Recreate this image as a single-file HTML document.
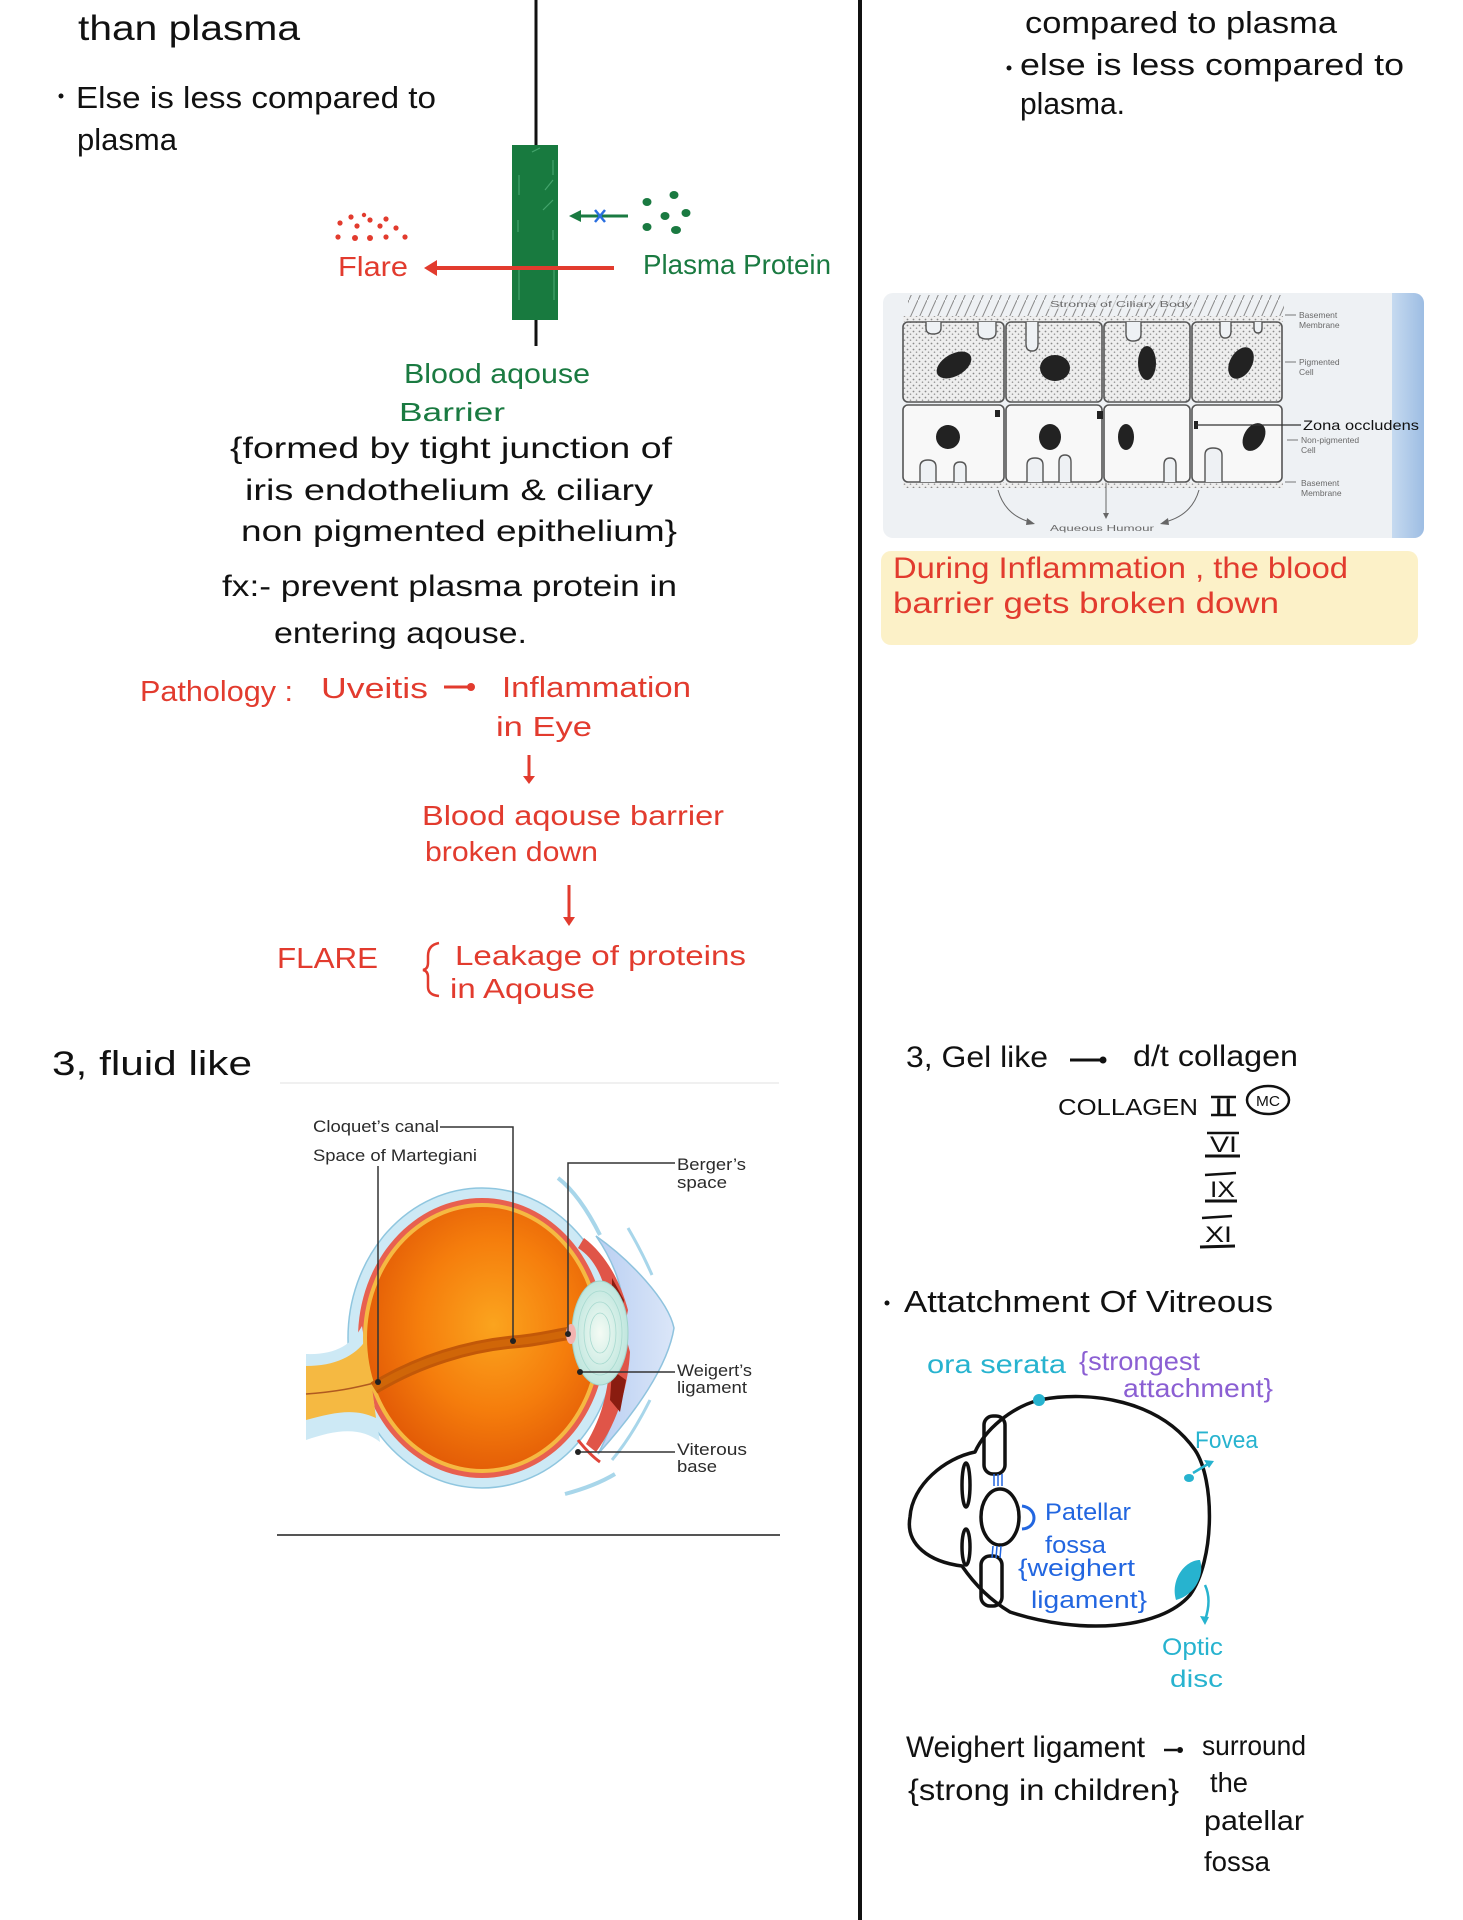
<!DOCTYPE html>
<html>
<head>
<meta charset="utf-8">
<style>
html,body{margin:0;padding:0;background:#fff;}
svg{display:block;}
text{font-family:"Liberation Sans","DejaVu Sans",sans-serif;}
.k{fill:#111;}
.r{fill:#e23b2e;}
.g{fill:#1a7a41;}
.c{fill:#27b3cf;}
.p{fill:#8b5fd3;}
.b{fill:#2266e0;}
.lbl{fill:#2b2b2b;font-size:17px;}
.sm{fill:#6a6a6a;font-size:8.5px;}
</style>
</head>
<body>
<svg width="1463" height="1920" viewBox="0 0 1463 1920" xmlns="http://www.w3.org/2000/svg">
<defs>
  <pattern id="hatch" width="9" height="20" patternUnits="userSpaceOnUse">
    <line x1="0" y1="20" x2="9" y2="0" stroke="#8a8a8a" stroke-width="1"/>
  </pattern>
  <pattern id="stip" width="6" height="6" patternUnits="userSpaceOnUse">
    <rect width="6" height="6" fill="#eeeeee"/>
    <circle cx="1.5" cy="1.5" r="0.9" fill="#8a8a8a"/>
    <circle cx="4.5" cy="4.2" r="0.8" fill="#999"/>
  </pattern>
  <linearGradient id="strip" x1="0" x2="1" y1="0" y2="0">
    <stop offset="0" stop-color="#c6daf0"/>
    <stop offset="1" stop-color="#9dbde3"/>
  </linearGradient>
  <radialGradient id="vit" cx="0.55" cy="0.45" r="0.6">
    <stop offset="0" stop-color="#fba41e"/>
    <stop offset="0.55" stop-color="#f57d0c"/>
    <stop offset="1" stop-color="#e15806"/>
  </radialGradient>
  <radialGradient id="lens" cx="0.5" cy="0.5" r="0.5">
    <stop offset="0" stop-color="#f4fbf4"/>
    <stop offset="1" stop-color="#bfe6de"/>
  </radialGradient>
  <linearGradient id="corn" x1="0" x2="1">
    <stop offset="0" stop-color="#b9cff2"/>
    <stop offset="1" stop-color="#dbe6f8"/>
  </linearGradient>
</defs>

<!-- central divider -->
<rect x="858" y="0" width="4" height="1920" fill="#111"/>

<!-- ================= LEFT COLUMN ================= -->
<text class="k" x="78" y="40" font-size="35" textLength="222" lengthAdjust="spacingAndGlyphs">than   plasma</text>
<circle cx="61" cy="96" r="2.5" fill="#111"/>
<text class="k" x="76" y="108" font-size="31" textLength="360" lengthAdjust="spacingAndGlyphs">Else  is less  compared  to</text>
<text class="k" x="77" y="150" font-size="31" textLength="100" lengthAdjust="spacingAndGlyphs">plasma</text>

<!-- barrier diagram -->
<line x1="536" y1="0" x2="536" y2="146" stroke="#111" stroke-width="3"/>
<line x1="536" y1="318" x2="536" y2="346" stroke="#111" stroke-width="3"/>
<rect x="512" y="145" width="46" height="175" fill="#187a3f"/>
<g stroke="#4fae78" stroke-width="1.2" opacity="0.8">
  <line x1="519" y1="175" x2="519" y2="195"/>
  <line x1="553" y1="160" x2="553" y2="175"/>
  <line x1="545" y1="190" x2="553" y2="180"/>
  <line x1="543" y1="210" x2="553" y2="200"/>
  <line x1="518" y1="220" x2="518" y2="232"/>
  <line x1="553" y1="230" x2="553" y2="240"/>
  <line x1="519" y1="270" x2="519" y2="300"/>
  <line x1="554" y1="270" x2="554" y2="300"/>
  <line x1="532" y1="152" x2="540" y2="148"/>
</g>
<!-- green arrow blocked -->
<line x1="628" y1="216" x2="576" y2="216" stroke="#1a7a41" stroke-width="3"/>
<polygon points="569,216 581,210 581,222" fill="#1a7a41"/>
<line x1="595" y1="210" x2="605" y2="222" stroke="#2a6fe0" stroke-width="2.5"/>
<line x1="605" y1="210" x2="595" y2="222" stroke="#2a6fe0" stroke-width="2.5"/>
<g fill="#1a7a41">
  <ellipse cx="647" cy="202" rx="4.5" ry="4"/>
  <ellipse cx="674" cy="195" rx="4.5" ry="4"/>
  <ellipse cx="665" cy="216" rx="4.5" ry="4"/>
  <ellipse cx="686" cy="213" rx="4.5" ry="4"/>
  <ellipse cx="647" cy="227" rx="4.5" ry="4"/>
  <ellipse cx="676" cy="230" rx="5" ry="4"/>
</g>
<!-- red flare -->
<g fill="#e23b2e">
  <circle cx="340" cy="223" r="2.6"/><circle cx="351" cy="217" r="2.6"/>
  <circle cx="357" cy="226" r="2.6"/><circle cx="370" cy="220" r="2.6"/>
  <circle cx="380" cy="226" r="2.6"/><circle cx="386" cy="219" r="2.6"/>
  <circle cx="396" cy="228" r="2.6"/><circle cx="338" cy="237" r="2.6"/>
  <circle cx="355" cy="238" r="3"/><circle cx="370" cy="238" r="3"/>
  <circle cx="386" cy="237" r="2.6"/><circle cx="405" cy="237" r="2.6"/>
  <circle cx="364" cy="215" r="2.2"/>
</g>
<text class="r" x="338" y="276" font-size="28" textLength="70" lengthAdjust="spacingAndGlyphs">Flare</text>
<line x1="614" y1="268" x2="432" y2="268" stroke="#e23b2e" stroke-width="4"/>
<polygon points="424,268 437,260 437,276" fill="#e23b2e"/>
<text class="g" x="643" y="274" font-size="28" textLength="188" lengthAdjust="spacingAndGlyphs">Plasma Protein</text>

<text class="g" x="404" y="383" font-size="28" textLength="186" lengthAdjust="spacingAndGlyphs">Blood  aqouse</text>
<text class="g" x="399" y="421" font-size="26" textLength="106" lengthAdjust="spacingAndGlyphs">Barrier</text>

<text class="k" x="230" y="458" font-size="30" textLength="442" lengthAdjust="spacingAndGlyphs">{formed  by  tight  junction  of</text>
<text class="k" x="245" y="500" font-size="30" textLength="408" lengthAdjust="spacingAndGlyphs">iris  endothelium  &amp;  ciliary</text>
<text class="k" x="241" y="541" font-size="30" textLength="436" lengthAdjust="spacingAndGlyphs">non  pigmented  epithelium}</text>
<text class="k" x="222" y="596" font-size="30" textLength="455" lengthAdjust="spacingAndGlyphs">fx:-  prevent  plasma  protein in</text>
<text class="k" x="274" y="643" font-size="30" textLength="253" lengthAdjust="spacingAndGlyphs">entering  aqouse.</text>

<!-- pathology -->
<text class="r" x="140" y="701" font-size="29" textLength="153" lengthAdjust="spacingAndGlyphs">Pathology :</text>
<text class="r" x="321" y="698" font-size="29" textLength="107" lengthAdjust="spacingAndGlyphs">Uveitis</text>
<line x1="444" y1="687" x2="468" y2="687" stroke="#e23b2e" stroke-width="3"/>
<circle cx="471" cy="687" r="4" fill="#e23b2e"/>
<text class="r" x="502" y="697" font-size="29" textLength="189" lengthAdjust="spacingAndGlyphs">Inflammation</text>
<text class="r" x="496" y="736" font-size="28" textLength="96" lengthAdjust="spacingAndGlyphs">in  Eye</text>
<line x1="529" y1="755" x2="529" y2="780" stroke="#e23b2e" stroke-width="3"/>
<polygon points="523,776 535,776 529,784" fill="#e23b2e"/>
<text class="r" x="422" y="825" font-size="28" textLength="302" lengthAdjust="spacingAndGlyphs">Blood  aqouse  barrier</text>
<text class="r" x="425" y="861" font-size="28" textLength="173" lengthAdjust="spacingAndGlyphs">broken  down</text>
<line x1="569" y1="885" x2="569" y2="920" stroke="#e23b2e" stroke-width="3"/>
<polygon points="563,917 575,917 569,926" fill="#e23b2e"/>
<text class="r" x="277" y="968" font-size="29" textLength="101" lengthAdjust="spacingAndGlyphs">FLARE</text>
<path d="M439 943 Q428 945 428 956 L428 963 Q428 969 423 970 Q428 971 428 977 L428 987 Q428 995 439 996" fill="none" stroke="#e23b2e" stroke-width="2.5"/>
<text class="r" x="455" y="965" font-size="28" textLength="291" lengthAdjust="spacingAndGlyphs">Leakage  of  proteins</text>
<text class="r" x="450" y="998" font-size="28" textLength="145" lengthAdjust="spacingAndGlyphs">in  Aqouse</text>

<!-- 3, fluid like -->
<text class="k" x="52" y="1075" font-size="34" textLength="200" lengthAdjust="spacingAndGlyphs">3,  fluid   like</text>

<!-- eye anatomy figure -->
<line x1="280" y1="1083" x2="779" y2="1083" stroke="#ececec" stroke-width="1.5"/>
<line x1="277" y1="1535" x2="780" y2="1535" stroke="#555" stroke-width="2"/>

<!-- conjunctiva flaps -->
<path d="M558 1178 Q580 1195 600 1235" fill="none" stroke="#a8d6ea" stroke-width="4"/>
<path d="M628 1228 Q642 1252 652 1275" fill="none" stroke="#a8d6ea" stroke-width="3"/>
<path d="M615 1474 Q595 1486 565 1494" fill="none" stroke="#a8d6ea" stroke-width="4"/>
<path d="M650 1400 Q632 1436 612 1460" fill="none" stroke="#a8d6ea" stroke-width="3"/>

<!-- sclera -->
<ellipse cx="482" cy="1338" rx="134" ry="150" fill="#cde9f5" stroke="#8fc6df" stroke-width="1.5"/>
<!-- choroid -->
<ellipse cx="482" cy="1338" rx="124" ry="140" fill="#e8604f"/>
<!-- optic nerve -->
<path d="M306 1354 C335 1355 352 1345 362 1326 L380 1442 C360 1426 335 1430 306 1440 Z" fill="#cde9f5"/>
<path d="M306 1366 C335 1366 355 1356 366 1340 L376 1418 C355 1408 335 1412 306 1420 Z" fill="#f5b942"/>
<!-- retina -->
<ellipse cx="482" cy="1338" rx="119" ry="135" fill="#f5b942"/>
<!-- vitreous -->
<ellipse cx="482" cy="1338" rx="115" ry="131" fill="url(#vit)"/>
<path d="M306 1394 C335 1392 355 1388 378 1382" fill="none" stroke="#b05a20" stroke-width="1.5"/>
<!-- cloquet's canal -->
<path d="M374 1388 C420 1360 470 1346 513 1342 C540 1340 555 1335 572 1333" fill="none" stroke="#c25808" stroke-width="13"/>
<path d="M374 1388 C420 1360 470 1346 513 1342 C540 1340 555 1335 572 1333" fill="none" stroke="#d06608" stroke-width="7"/>
<!-- cornea -->
<path d="M596 1236 C630 1260 668 1300 674 1328 C668 1366 636 1412 598 1454 C616 1420 628 1372 626 1330 C625 1290 614 1262 596 1236 Z" fill="url(#corn)" stroke="#8fc3de" stroke-width="1.5"/>
<!-- iris / ciliary -->
<path d="M584 1238 C605 1254 620 1280 628 1310 L624 1330 L630 1352 C628 1392 614 1428 596 1452 L586 1444 C600 1420 612 1390 610 1335 C610 1292 600 1262 578 1248 Z" fill="#e05548"/>
<path d="M612 1278 L624 1300 L620 1322 L612 1310 Z" fill="#8a1c10"/>
<path d="M612 1370 L626 1380 L620 1412 L610 1400 Z" fill="#8a1c10"/>
<path d="M578 1440 Q590 1455 600 1462" fill="none" stroke="#e0453a" stroke-width="3"/>
<!-- lens -->
<ellipse cx="600" cy="1333" rx="28" ry="52" fill="url(#lens)" stroke="#9fd3ca" stroke-width="1"/>
<g fill="none" stroke="#a8dad0" stroke-width="0.8">
  <ellipse cx="600" cy="1333" rx="22" ry="42"/>
  <ellipse cx="600" cy="1333" rx="16" ry="31"/>
  <ellipse cx="600" cy="1333" rx="10" ry="20"/>
</g>
<ellipse cx="571" cy="1334" rx="5" ry="10" fill="#f2b3b0"/>

<!-- label lines -->
<g fill="none" stroke="#333" stroke-width="1.5">
  <polyline points="440,1127 513,1127 513,1340"/>
  <polyline points="378,1166 378,1382"/>
  <polyline points="675,1163 568,1163 568,1333"/>
  <polyline points="675,1372 580,1372"/>
  <polyline points="675,1452 578,1452"/>
</g>
<g fill="#222">
  <circle cx="513" cy="1341" r="3"/>
  <circle cx="378" cy="1382" r="3"/>
  <circle cx="568" cy="1334" r="3"/>
  <circle cx="580" cy="1372" r="3"/>
  <circle cx="578" cy="1452" r="3"/>
</g>
<text class="lbl" x="313" y="1132" textLength="126" lengthAdjust="spacingAndGlyphs">Cloquet’s canal</text>
<text class="lbl" x="313" y="1161" textLength="164" lengthAdjust="spacingAndGlyphs">Space of Martegiani</text>
<text class="lbl" x="677" y="1170" textLength="69" lengthAdjust="spacingAndGlyphs">Berger’s</text>
<text class="lbl" x="677" y="1188" textLength="50" lengthAdjust="spacingAndGlyphs">space</text>
<text class="lbl" x="677" y="1376" textLength="75" lengthAdjust="spacingAndGlyphs">Weigert’s</text>
<text class="lbl" x="677" y="1393" textLength="70" lengthAdjust="spacingAndGlyphs">ligament</text>
<text class="lbl" x="677" y="1455" textLength="70" lengthAdjust="spacingAndGlyphs">Viterous</text>
<text class="lbl" x="677" y="1472" textLength="40" lengthAdjust="spacingAndGlyphs">base</text>

<!-- ================= RIGHT COLUMN ================= -->
<text class="k" x="1025" y="33" font-size="31" textLength="312" lengthAdjust="spacingAndGlyphs">compared  to  plasma</text>
<circle cx="1009" cy="68" r="2.5" fill="#111"/>
<text class="k" x="1020" y="75" font-size="31" textLength="384" lengthAdjust="spacingAndGlyphs">else  is  less  compared  to</text>
<text class="k" x="1020" y="114" font-size="31" textLength="105" lengthAdjust="spacingAndGlyphs">plasma.</text>

<!-- ciliary epithelium panel -->
<rect x="883" y="293" width="541" height="245" rx="10" fill="#eef1f4"/>
<path d="M1392 293 H1414 A10 10 0 0 1 1424 303 V528 A10 10 0 0 1 1414 538 H1392 Z" fill="url(#strip)"/>
<rect x="908" y="295" width="376" height="21" fill="url(#hatch)"/>
<rect x="1048" y="298" width="146" height="11" fill="#eef1f4" opacity="0.6"/>
<text class="sm" x="1050" y="307" textLength="142" lengthAdjust="spacingAndGlyphs">Stroma of Ciliary Body</text>
<rect x="903" y="316" width="380" height="6" fill="url(#stip)"/>
<rect x="903" y="482" width="380" height="6" fill="url(#stip)"/>
<!-- top pigmented cells -->
<g stroke="#555" stroke-width="1.6" fill="url(#stip)">
  <rect x="903" y="322" width="101" height="80" rx="5"/>
  <rect x="1006" y="322" width="96" height="80" rx="5"/>
  <rect x="1104" y="322" width="86" height="80" rx="5"/>
  <rect x="1192" y="322" width="90" height="80" rx="5"/>
</g>
<!-- bottom non-pigmented cells -->
<g stroke="#555" stroke-width="1.6" fill="#f8f8f8">
  <rect x="903" y="405" width="101" height="77" rx="5"/>
  <rect x="1006" y="405" width="96" height="77" rx="5"/>
  <rect x="1104" y="405" width="86" height="77" rx="5"/>
  <rect x="1192" y="405" width="90" height="77" rx="5"/>
</g>
<!-- top notches -->
<g stroke="#555" stroke-width="1.4" fill="#eef1f4">
  <path d="M926 322 V328 Q926 334 933 334 Q941 334 941 328 V322"/>
  <path d="M978 322 V332 Q978 339 987 339 Q996 339 996 332 V322"/>
  <path d="M1026 322 V344 Q1026 351 1032 351 Q1038 351 1038 344 V322"/>
  <path d="M1126 322 V334 Q1126 341 1133 341 Q1141 341 1141 334 V322"/>
  <path d="M1220 322 V331 Q1220 338 1225 338 Q1231 338 1231 331 V322"/>
  <path d="M1254 322 V328 Q1254 333 1258 333 Q1262 333 1262 328 V322"/>
</g>
<!-- bottom arches -->
<g stroke="#555" stroke-width="1.4" fill="#eef1f4">
  <path d="M920 482 V467 Q920 460 928 460 Q936 460 936 467 V482"/>
  <path d="M954 482 V468 Q954 462 960 462 Q966 462 966 468 V482"/>
  <path d="M1027 482 V465 Q1027 458 1035 458 Q1043 458 1043 465 V482"/>
  <path d="M1059 482 V462 Q1059 455 1065 455 Q1071 455 1071 462 V482"/>
  <path d="M1164 482 V465 Q1164 458 1170 458 Q1176 458 1176 465 V482"/>
  <path d="M1205 482 V455 Q1205 448 1213 448 Q1222 448 1222 455 V482"/>
</g>
<!-- nuclei -->
<g fill="#222">
  <ellipse cx="954" cy="365" rx="19" ry="11" transform="rotate(-30 954 365)"/>
  <ellipse cx="1055" cy="368" rx="15" ry="13"/>
  <ellipse cx="1147" cy="363" rx="9" ry="17"/>
  <ellipse cx="1241" cy="363" rx="11" ry="17" transform="rotate(30 1241 363)"/>
  <ellipse cx="948" cy="437" rx="12" ry="12" transform="rotate(-20 948 437)"/>
  <ellipse cx="1050" cy="437" rx="11" ry="13"/>
  <ellipse cx="1126" cy="437" rx="8" ry="13"/>
  <ellipse cx="1254" cy="437" rx="10" ry="15" transform="rotate(30 1254 437)"/>
  <rect x="995" y="410" width="5" height="7"/>
  <rect x="1097" y="411" width="6" height="8"/>
  <rect x="1194" y="421" width="4" height="8"/>
</g>
<line x1="1196" y1="425" x2="1301" y2="425" stroke="#333" stroke-width="1.2"/>
<text x="1303" y="430" font-size="14" fill="#111" textLength="116" lengthAdjust="spacingAndGlyphs">Zona occludens</text>
<g stroke="#777" stroke-width="1">
  <line x1="1285" y1="315" x2="1296" y2="315"/>
  <line x1="1285" y1="362" x2="1296" y2="362"/>
  <line x1="1287" y1="440" x2="1298" y2="440"/>
  <line x1="1285" y1="482" x2="1296" y2="482"/>
</g>
<text class="sm" x="1299" y="318">Basement</text>
<text class="sm" x="1299" y="328">Membrane</text>
<text class="sm" x="1299" y="365">Pigmented</text>
<text class="sm" x="1299" y="375">Cell</text>
<text class="sm" x="1301" y="443">Non-pigmented</text>
<text class="sm" x="1301" y="453">Cell</text>
<text class="sm" x="1301" y="486">Basement</text>
<text class="sm" x="1301" y="496">Membrane</text>
<g fill="none" stroke="#666" stroke-width="1">
  <path d="M998 490 Q1005 515 1030 522"/>
  <line x1="1106" y1="483" x2="1106" y2="515"/>
  <path d="M1199 490 Q1192 515 1165 522"/>
</g>
<g fill="#666">
  <polygon points="1035,524 1027,518 1026,525"/>
  <polygon points="1106,519 1103,513 1109,513"/>
  <polygon points="1160,524 1168,518 1169,525"/>
</g>
<text class="sm" x="1050" y="531" textLength="104" lengthAdjust="spacingAndGlyphs">Aqueous  Humour</text>

<!-- yellow note -->
<rect x="881" y="551" width="537" height="94" rx="10" fill="#fcf1c8"/>
<text class="r" x="893" y="578" font-size="30" textLength="455" lengthAdjust="spacingAndGlyphs">During  Inflammation  ,  the  blood</text>
<text class="r" x="893" y="613" font-size="30" textLength="386" lengthAdjust="spacingAndGlyphs">barrier gets broken  down</text>

<!-- 3, Gel like -->
<text class="k" x="906" y="1067" font-size="30" textLength="142" lengthAdjust="spacingAndGlyphs">3, Gel like</text>
<line x1="1070" y1="1060" x2="1100" y2="1060" stroke="#111" stroke-width="3"/>
<circle cx="1103" cy="1060" r="3.5" fill="#111"/>
<text class="k" x="1133" y="1066" font-size="30" textLength="165" lengthAdjust="spacingAndGlyphs">d/t  collagen</text>
<text class="k" x="1058" y="1115" font-size="23" textLength="140" lengthAdjust="spacingAndGlyphs">COLLAGEN</text>
<text class="k" x="1214" y="1114" font-size="22" textLength="19" lengthAdjust="spacingAndGlyphs">II</text>
<line x1="1211" y1="1097" x2="1236" y2="1097" stroke="#111" stroke-width="2.5"/>
<line x1="1211" y1="1115" x2="1236" y2="1115" stroke="#111" stroke-width="2.5"/>
<ellipse cx="1268" cy="1100" rx="21" ry="14" fill="none" stroke="#111" stroke-width="2.5"/>
<text class="k" x="1256" y="1106" font-size="15" textLength="24" lengthAdjust="spacingAndGlyphs">MC</text>

<text class="k" x="1210" y="1152" font-size="22" textLength="27" lengthAdjust="spacingAndGlyphs">VI</text>
<line x1="1207" y1="1133" x2="1239" y2="1133" stroke="#111" stroke-width="2.5"/>
<line x1="1205" y1="1156" x2="1240" y2="1156" stroke="#111" stroke-width="3"/>
<text class="k" x="1210" y="1197" font-size="22" textLength="25" lengthAdjust="spacingAndGlyphs">IX</text>
<line x1="1205" y1="1175" x2="1236" y2="1173" stroke="#111" stroke-width="2.5"/>
<line x1="1205" y1="1201" x2="1237" y2="1201" stroke="#111" stroke-width="3"/>
<text class="k" x="1205" y="1242" font-size="22" textLength="27" lengthAdjust="spacingAndGlyphs">XI</text>
<line x1="1202" y1="1218" x2="1232" y2="1216" stroke="#111" stroke-width="2.5"/>
<line x1="1200" y1="1247" x2="1235" y2="1246" stroke="#111" stroke-width="3"/>

<circle cx="887" cy="1303" r="2.5" fill="#111"/>
<text class="k" x="904" y="1312" font-size="31" textLength="369" lengthAdjust="spacingAndGlyphs">Attatchment  Of  Vitreous</text>

<!-- hand-drawn eye -->
<text class="c" x="927" y="1373" font-size="26" textLength="139" lengthAdjust="spacingAndGlyphs">ora  serata</text>
<text class="p" x="1079" y="1370" font-size="26" textLength="121" lengthAdjust="spacingAndGlyphs">{strongest</text>
<text class="p" x="1123" y="1397" font-size="26" textLength="150" lengthAdjust="spacingAndGlyphs">attachment}</text>

<g fill="none" stroke="#111" stroke-width="3.5" stroke-linejoin="round">
  <path d="M1039 1400 C1090 1390 1160 1400 1195 1450 C1215 1480 1215 1560 1190 1595 C1160 1630 1080 1635 1010 1612 C990 1600 975 1585 962 1566 C930 1562 905 1545 910 1517 C912 1485 945 1458 975 1452 C985 1430 1010 1408 1039 1400 Z"/>
  <rect x="984" y="1416" width="21" height="58" rx="9"/>
  <rect x="981" y="1556" width="21" height="50" rx="9"/>
  <ellipse cx="966" cy="1485" rx="4" ry="22"/>
  <ellipse cx="966" cy="1547" rx="4" ry="18"/>
  <ellipse cx="1000" cy="1517" rx="19" ry="28"/>
</g>
<g stroke="#2266e0" stroke-width="1.5">
  <line x1="994" y1="1474" x2="994" y2="1486"/>
  <line x1="998" y1="1474" x2="998" y2="1486"/>
  <line x1="1002" y1="1474" x2="1002" y2="1486"/>
  <line x1="993" y1="1546" x2="992" y2="1558"/>
  <line x1="997" y1="1546" x2="996" y2="1558"/>
  <line x1="1001" y1="1546" x2="1000" y2="1558"/>
</g>
<path d="M1022 1506 C1038 1508 1038 1528 1022 1529" fill="none" stroke="#2266e0" stroke-width="3"/>
<circle cx="1039" cy="1400" r="6" fill="#27b3cf"/>
<ellipse cx="1189" cy="1478" rx="5" ry="4" fill="#27b3cf"/>
<line x1="1193" y1="1473" x2="1208" y2="1464" stroke="#27b3cf" stroke-width="2.5"/>
<polygon points="1214,1461 1204,1460 1209,1468" fill="#27b3cf"/>
<path d="M1176 1600 C1170 1580 1185 1560 1200 1560 C1205 1575 1195 1595 1176 1600 Z" fill="#27b3cf"/>
<path d="M1205 1585 Q1212 1600 1205 1620" fill="none" stroke="#27b3cf" stroke-width="2.5"/>
<polygon points="1205,1625 1200,1616 1209,1617" fill="#27b3cf"/>

<text class="c" x="1195" y="1448" font-size="24" textLength="63" lengthAdjust="spacingAndGlyphs">Fovea</text>
<text class="b" x="1045" y="1520" font-size="24" textLength="86" lengthAdjust="spacingAndGlyphs">Patellar</text>
<text class="b" x="1045" y="1553" font-size="24" textLength="61" lengthAdjust="spacingAndGlyphs">fossa</text>
<text class="b" x="1018" y="1576" font-size="24" textLength="117" lengthAdjust="spacingAndGlyphs">{weighert</text>
<text class="b" x="1031" y="1608" font-size="24" textLength="116" lengthAdjust="spacingAndGlyphs">ligament}</text>
<text class="c" x="1162" y="1655" font-size="24" textLength="61" lengthAdjust="spacingAndGlyphs">Optic</text>
<text class="c" x="1170" y="1687" font-size="24" textLength="53" lengthAdjust="spacingAndGlyphs">disc</text>

<!-- weighert ligament note -->
<text class="k" x="906" y="1757" font-size="30" textLength="239" lengthAdjust="spacingAndGlyphs">Weighert  ligament</text>
<line x1="1164" y1="1750" x2="1177" y2="1750" stroke="#111" stroke-width="2.5"/>
<circle cx="1180" cy="1750" r="3" fill="#111"/>
<text class="k" x="1202" y="1755" font-size="28" textLength="104" lengthAdjust="spacingAndGlyphs">surround</text>
<text class="k" x="908" y="1800" font-size="30" textLength="271" lengthAdjust="spacingAndGlyphs">{strong  in children}</text>
<text class="k" x="1210" y="1792" font-size="28" textLength="38" lengthAdjust="spacingAndGlyphs">the</text>
<text class="k" x="1204" y="1830" font-size="28" textLength="100" lengthAdjust="spacingAndGlyphs">patellar</text>
<text class="k" x="1204" y="1871" font-size="28" textLength="66" lengthAdjust="spacingAndGlyphs">fossa</text>
</svg>
</body>
</html>
